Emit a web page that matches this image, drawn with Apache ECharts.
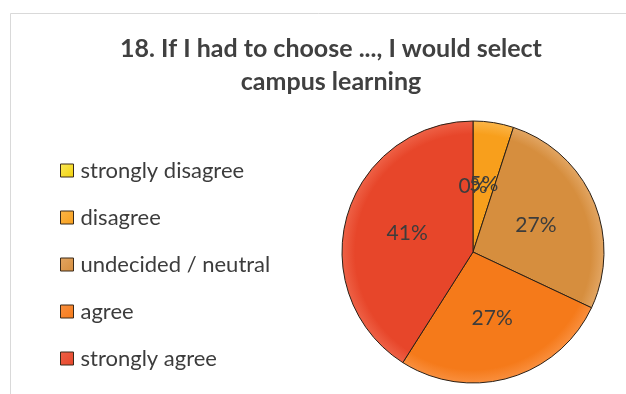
<!DOCTYPE html>
<html>
<head>
<meta charset="utf-8">
<script src="https://cdn.jsdelivr.net/npm/echarts@6/dist/echarts.min.js"></script>
<style>
  html, body { margin: 0; padding: 0; background: #ffffff; }
  #chart { width: 626px; height: 394px; }
</style>
</head>
<body>
<div id="chart"></div>
<script>
// Survey answers, question 18 (share of respondents, %)
const categories = ['strongly disagree', 'disagree', 'undecided / neutral', 'agree', 'strongly agree'];
const shares = [0, 5, 27, 27, 41];
const titleText = '18. If I had to choose ..., I would select\ncampus learning';

// Base colour and lighter highlight for each answer
const baseColors = ['#f2d20a', '#f89f1c', '#d68e3e', '#f57a1a', '#e7462a'];
const lightColors = ['#fbe85a', '#fbb548', '#e2a562', '#f98f3e', '#ee6146'];

const fontFamily = 'Lato, "Open Sans", sans-serif';
const pieCenter = [473, 252];
const pieRadius = 131;
const labelStyle = { fontFamily: fontFamily, fontSize: 21, color: '#3c3c3c' };

// Shading spans the whole disc so every slice gets the same rim highlight
function sliceFill(i) {
  return new echarts.graphic.RadialGradient(pieCenter[0], pieCenter[1], pieRadius, [
    { offset: 0, color: baseColors[i] },
    { offset: 0.9, color: baseColors[i] },
    { offset: 1, color: lightColors[i] }
  ], true);
}

function iconFill(i) {
  return new echarts.graphic.LinearGradient(0, 0, 1, 1, [
    { offset: 0, color: lightColors[i] },
    { offset: 1, color: baseColors[i] }
  ]);
}

const frame = {
  id: 'frame',
  type: 'rect',
  shape: { x: 10.5, y: 13.5, width: 700, height: 500 },
  style: { fill: 'none', stroke: '#d9d9d9', lineWidth: 1 },
  silent: true
};

const chart = echarts.init(document.getElementById('chart'), null, { renderer: 'canvas' });

chart.setOption({
  animation: false,
  backgroundColor: '#ffffff',
  graphic: [frame],
  title: {
    text: titleText,
    left: 326,
    textAlign: 'center',
    top: 27,
    textStyle: {
      fontFamily: fontFamily,
      fontSize: 25,
      fontWeight: 'bold',
      color: '#404040',
      lineHeight: 33
    }
  },
  legend: {
    orient: 'vertical',
    left: 60,
    top: 158,
    padding: 0,
    itemWidth: 13,
    itemHeight: 13,
    itemGap: 22,
    icon: 'rect',
    data: categories.map((name, i) => ({
      name: name,
      itemStyle: { color: iconFill(i), borderColor: '#3a2a1a', borderWidth: 1 }
    })),
    textStyle: {
      fontFamily: fontFamily,
      fontSize: 22,
      lineHeight: 25,
      color: '#3c3c3c',
      padding: [0, 0, 0, 2]
    },
    selectedMode: false
  },
  series: [{
    type: 'pie',
    center: pieCenter,
    radius: pieRadius,
    startAngle: 90,
    clockwise: true,
    avoidLabelOverlap: false,
    label: {
      show: true,
      position: 'inside',
      formatter: '{c}%',
      fontFamily: labelStyle.fontFamily,
      fontSize: labelStyle.fontSize,
      color: labelStyle.color
    },
    labelLine: { show: false },
    itemStyle: { borderColor: '#2b2016', borderWidth: 1 },
    emphasis: { disabled: true },
    data: categories.map((name, i) => ({
      name: name,
      value: shares[i],
      itemStyle: { color: sliceFill(i) }
    }))
  }]
});

// ECharts drops labels of zero-width slices; place them from the pie's own layout
const pieData = chart.getModel().getSeriesByIndex(0).getData();
const zeroLabels = [];
pieData.each(function (idx) {
  const value = pieData.get('value', idx);
  if (value !== 0) return;
  const lay = pieData.getItemLayout(idx);
  const mid = (lay.startAngle + lay.endAngle) / 2;
  const dist = ((lay.r0 || 0) + lay.r) / 2;
  zeroLabels.push({
    id: 'zero-label-' + idx,
    type: 'text',
    silent: true,
    z: 100,
    x: lay.cx + dist * Math.cos(mid),
    y: lay.cy + dist * Math.sin(mid),
    style: {
      text: value + '%',
      align: 'center',
      verticalAlign: 'middle',
      fill: labelStyle.color,
      fontFamily: labelStyle.fontFamily,
      fontSize: labelStyle.fontSize
    }
  });
});
chart.setOption({ graphic: [frame].concat(zeroLabels) });
</script>
</body>
</html>
